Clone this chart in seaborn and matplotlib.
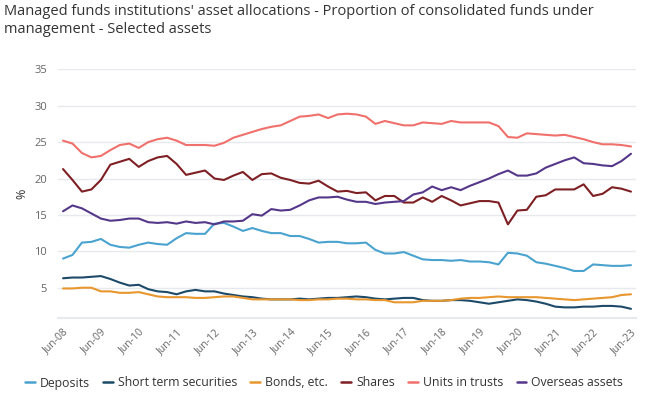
import matplotlib
matplotlib.use("Agg")
import matplotlib.pyplot as plt
import seaborn as sns
import pandas as pd
import numpy as np

quarters = pd.period_range("2008Q2", "2023Q2", freq="Q")
tick_labels = ["Jun-%02d" % y for y in range(8, 24)]

deposits = [9.0, 9.5, 11.2, 11.3, 11.7, 10.9, 10.6, 10.5, 10.9, 11.2, 11.0, 10.9, 11.8, 12.5, 12.4, 12.4,
            13.8, 13.9, 13.4, 12.8, 13.2, 12.8, 12.5, 12.5, 12.1, 12.1, 11.7, 11.2, 11.3, 11.3, 11.1, 11.1,
            11.2, 10.2, 9.7, 9.7, 9.9, 9.4, 8.9, 8.8, 8.8, 8.7, 8.8, 8.6, 8.6, 8.5, 8.2, 9.8, 9.7, 9.4,
            8.5, 8.3, 8.0, 7.7, 7.3, 7.3, 8.2, 8.1, 8.0, 8.0, 8.1]
short_term = [6.3, 6.4, 6.4, 6.5, 6.6, 6.2, 5.7, 5.3, 5.4, 4.8, 4.5, 4.4, 4.1, 4.5, 4.7, 4.5,
              4.5, 4.2, 4.0, 3.8, 3.7, 3.5, 3.4, 3.4, 3.4, 3.5, 3.4, 3.5, 3.6, 3.6, 3.7, 3.8,
              3.7, 3.5, 3.4, 3.5, 3.6, 3.6, 3.3, 3.2, 3.2, 3.3, 3.3, 3.2, 3.0, 2.8, 3.0, 3.2, 3.4, 3.3,
              3.1, 2.8, 2.4, 2.3, 2.3, 2.4, 2.4, 2.5, 2.5, 2.4, 2.1]
bonds = [4.9, 4.9, 5.0, 5.0, 4.5, 4.5, 4.3, 4.3, 4.4, 4.1, 3.8, 3.7, 3.7, 3.7, 3.6, 3.6,
         3.7, 3.8, 3.8, 3.6, 3.4, 3.4, 3.4, 3.4, 3.4, 3.3, 3.3, 3.4, 3.4, 3.5, 3.5, 3.4,
         3.4, 3.3, 3.3, 3.0, 3.0, 3.0, 3.2, 3.2, 3.2, 3.3, 3.5, 3.6, 3.6, 3.7, 3.8, 3.7, 3.7, 3.7,
         3.7, 3.6, 3.5, 3.4, 3.3, 3.4, 3.5, 3.6, 3.7, 4.0, 4.1]
shares = [21.3, 19.8, 18.2, 18.5, 19.8, 21.9, 22.3, 22.7, 21.6, 22.4, 22.9, 23.1, 22.0, 20.5, 20.8, 21.1,
          20.0, 19.8, 20.4, 20.9, 19.8, 20.6, 20.7, 20.1, 19.8, 19.4, 19.3, 19.7, 18.9, 18.2, 18.3, 18.0,
          18.1, 17.0, 17.6, 17.6, 16.7, 16.7, 17.4, 16.8, 17.6, 17.0, 16.3, 16.6, 16.9, 16.9, 16.7, 13.7,
          15.6, 15.7, 17.5, 17.7, 18.5, 18.5, 18.5, 19.2, 17.6, 17.9, 18.8, 18.6, 18.2]
units_trusts = [25.2, 24.8, 23.5, 22.9, 23.1, 23.9, 24.6, 24.8, 24.2, 25.0, 25.4, 25.6, 25.2, 24.6, 24.6, 24.6,
                24.5, 24.9, 25.6, 26.0, 26.4, 26.8, 27.1, 27.3, 27.9, 28.5, 28.6, 28.8, 28.3, 28.8, 28.9, 28.8,
                28.5, 27.5, 27.9, 27.6, 27.3, 27.3, 27.7, 27.6, 27.5, 27.9, 27.7, 27.7, 27.7, 27.7, 27.2, 25.7,
                25.6, 26.2, 26.1, 26.0, 25.9, 26.0, 25.7, 25.4, 25.0, 24.7, 24.7, 24.6, 24.4]
overseas = [15.5, 16.3, 15.9, 15.2, 14.5, 14.2, 14.3, 14.5, 14.5, 14.0, 13.9, 14.0, 13.8, 14.1, 13.9, 14.0,
            13.7, 14.1, 14.1, 14.2, 15.1, 14.9, 15.8, 15.6, 15.7, 16.3, 17.0, 17.4, 17.4, 17.5, 17.1, 16.8,
            16.8, 16.5, 16.7, 16.8, 16.9, 17.8, 18.1, 18.9, 18.4, 18.8, 18.4, 19.0, 19.5, 20.0, 20.6, 21.1,
            20.4, 20.4, 20.7, 21.5, 22.0, 22.5, 22.9, 22.1, 22.0, 21.8, 21.7, 22.4, 23.4]

series_names = ["Deposits", "Short term securities", "Bonds, etc.", "Shares",
                "Units in trusts", "Overseas assets"]
series_values = [deposits, short_term, bonds, shares, units_trusts, overseas]
colors = ["#4aa3cf", "#1d4a68", "#e8962e", "#7e1f24", "#f0706c", "#55378a"]

frames = []
for name, vals in zip(series_names, series_values):
    frames.append(pd.DataFrame({"idx": np.arange(len(vals)), "value": vals, "series": name}))
df = pd.concat(frames, ignore_index=True)

sns.set_theme(style="white")
plt.rcParams["font.family"] = ["Open Sans", "DejaVu Sans"]

fig = plt.figure(figsize=(6.48, 3.94), dpi=100)
ax = fig.add_axes([58 / 648, 1 - 318.3 / 394, (636 - 58) / 648, (318.3 - 69.3) / 394])

sns.lineplot(data=df, x="idx", y="value", hue="series", hue_order=series_names,
             palette=colors, linewidth=1.5, ax=ax, legend=False)

ax.set_xlim(-0.53, 60.53)
ax.set_ylim(0.8, 35)
ax.set_yticks([5, 10, 15, 20, 25, 30, 35])
ax.yaxis.grid(True, color="#e6e9ee", linewidth=1)
ax.set_axisbelow(True)
for s in ["top", "right", "left"]:
    ax.spines[s].set_visible(False)
ax.spines["bottom"].set_color("#e6e9ee")
ax.spines["bottom"].set_linewidth(1.5)

ax.set_xticks(np.arange(0, 61, 4))
ax.set_xticklabels(tick_labels, rotation=45, ha="right", rotation_mode="anchor",
                   fontsize=7.5, color="#666666")
ax.tick_params(axis="y", labelsize=8, colors="#666666", length=0, pad=8)
ax.tick_params(axis="x", length=0, pad=6)
ax.set_xlabel("")
ax.set_ylabel("%", fontsize=9, color="#333333", labelpad=4)

fig.text(4 / 648, 1 - 4 / 394,
         "Managed funds institutions' asset allocations - Proportion of consolidated funds under\nmanagement - Selected assets",
         ha="left", va="top", fontsize=10.5, color="#333333", linespacing=1.25)

handles = [plt.Line2D([0], [0], color=c, linewidth=1.8) for c in colors]
fig.legend(handles, series_names, loc="center", bbox_to_anchor=(0.5, 1 - 383 / 394),
           ncol=6, frameon=False, fontsize=8.8, handlelength=0.8, handletextpad=0.4,
           columnspacing=1.1, labelcolor="#333333")

fig.savefig("out.png", dpi=100)
